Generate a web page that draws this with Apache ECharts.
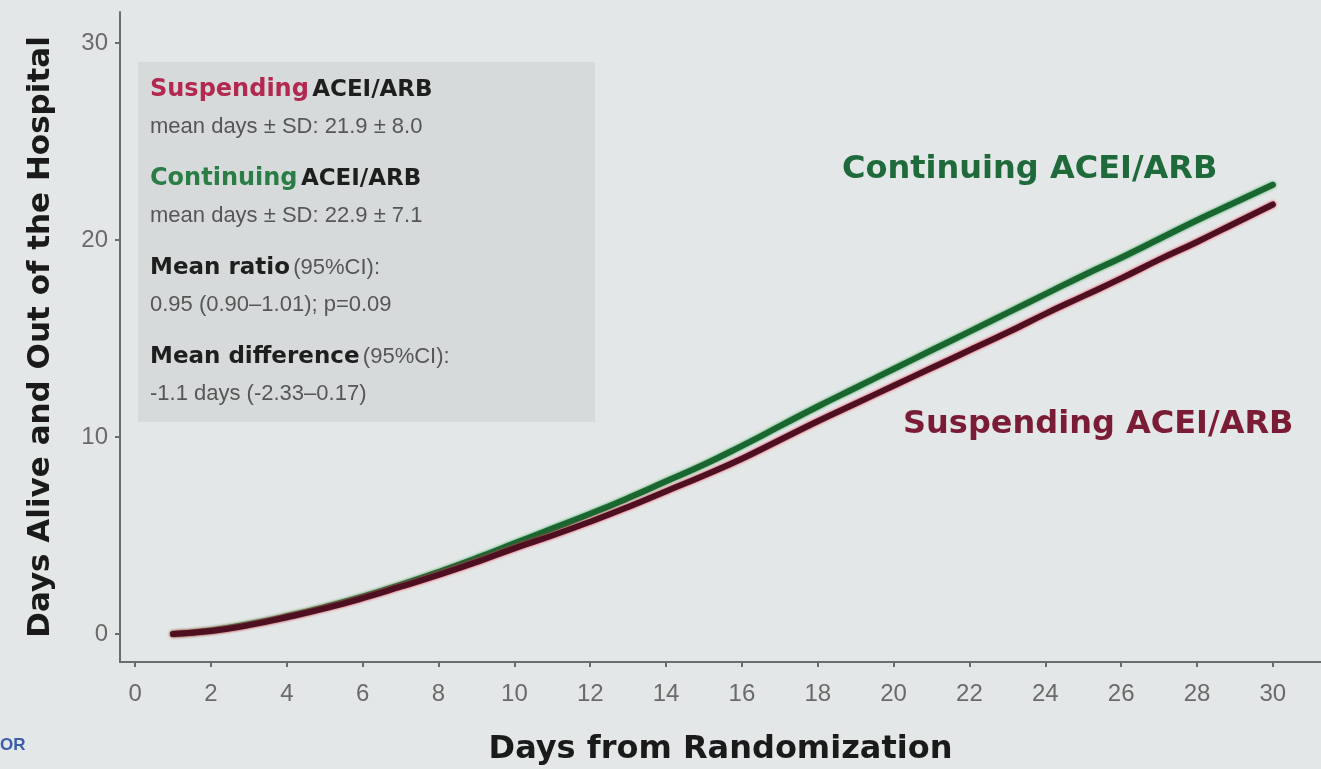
<!DOCTYPE html>
<html>
<head>
<meta charset="utf-8">
<script src="https://cdn.jsdelivr.net/npm/echarts@6/dist/echarts.min.js"></script>
<style>
html,body{margin:0;padding:0;background:#e4e7e7;}
#chart{width:1321px;height:769px;}
</style>
</head>
<body>
<div id="chart"></div>
<script>
const days = [1,2,3,4,5,6,7,8,9,10,11,12,13,14,15,16,17,18,19,20,21,22,23,24,25,26,27,28,29,30];
const continuing = [0,0.18,0.5,0.9,1.37,1.9,2.5,3.15,3.85,4.6,5.35,6.1,6.9,7.75,8.6,9.55,10.55,11.55,12.5,13.45,14.4,15.35,16.3,17.25,18.2,19.1,20.05,21.0,21.9,22.8];
const suspending = [0,0.15,0.45,0.85,1.3,1.82,2.4,3.0,3.65,4.35,5.0,5.7,6.45,7.25,8.05,8.9,9.85,10.8,11.7,12.6,13.5,14.4,15.3,16.25,17.15,18.05,19.0,19.9,20.85,21.8];
const xTicks = [0,2,4,6,8,10,12,14,16,18,20,22,24,26,28,30];
const yTicks = [0,10,20,30];

const font = '"Liberation Sans", Arial, sans-serif';
const bold = '"DejaVu Sans", sans-serif';
const chart = echarts.init(document.getElementById('chart'));
chart.setOption({
  backgroundColor: '#e4e7e7',
  animation: false,
  grid: {left: 120, right: 0, top: 12, bottom: 107, outerBoundsMode: 'none', containLabel: false},
  xAxis: {
    type: 'value', min: -0.4, max: 31.27,
    name: 'Days from Randomization', nameLocation: 'middle', nameGap: 72,
    nameTextStyle: {fontFamily: bold, fontSize: 32, fontWeight: 'bold', color: '#1a1a1a'},
    axisLine: {show: true, onZero: false, lineStyle: {color: '#6a6d6d', width: 2}},
    axisTick: {show: true, length: 5, customValues: xTicks, lineStyle: {color: '#6a6d6d', width: 2}},
    axisLabel: {customValues: xTicks, fontFamily: font, fontSize: 24, color: '#6a6a6a', margin: 20},
    splitLine: {show: false}
  },
  yAxis: {
    type: 'value', min: -1.42, max: 31.57,
    name: 'Days Alive and Out of the Hospital', nameLocation: 'middle', nameGap: 64,
    nameTextStyle: {fontFamily: bold, fontSize: 31, fontWeight: 'bold', color: '#1a1a1a'},
    axisLine: {show: true, onZero: false, lineStyle: {color: '#6a6d6d', width: 2}},
    axisTick: {show: true, length: 5, customValues: yTicks, lineStyle: {color: '#6a6d6d', width: 2}},
    axisLabel: {customValues: yTicks, fontFamily: font, fontSize: 24, color: '#6a6a6a', margin: 12},
    splitLine: {show: false}
  },
  series: [
    {
      name: 'Continuing ACEI/ARB', type: 'line', smooth: true, showSymbol: false,
      data: days.map((d, i) => [d, continuing[i]]),
      lineStyle: {color: '#1a6630', width: 6, cap: 'round', shadowColor: '#2fa34e', shadowBlur: 3}
    },
    {
      name: 'Suspending ACEI/ARB', type: 'line', smooth: true, showSymbol: false,
      data: days.map((d, i) => [d, suspending[i]]),
      lineStyle: {color: '#4e1020', width: 6, cap: 'round', shadowColor: '#e8304e', shadowBlur: 3}
    }
  ],
  graphic: [
    {type: 'rect', left: 138, top: 62, shape: {width: 457, height: 360}, style: {fill: '#d7dada'}, z: 1},
    {
      type: 'text', left: 150, top: 78, z: 2,
      style: {
        text: '{s|Suspending} {b|ACEI/ARB}\n{g|mean days ± SD: 21.9 ± 8.0}\n{sp|}\n{c|Continuing} {b|ACEI/ARB}\n{g|mean days ± SD: 22.9 ± 7.1}\n{sp|}\n{b|Mean ratio} {g|(95%CI):}\n{g|0.95 (0.90–1.01); p=0.09}\n{sp|}\n{b|Mean difference} {g|(95%CI):}\n{g|-1.1 days (-2.33–0.17)}',
        fontFamily: font,
        rich: {
          s: {fontFamily: bold, fontSize: 24, fontWeight: 'bold', fill: '#b3284f', lineHeight: 37},
          c: {fontFamily: bold, fontSize: 24, fontWeight: 'bold', fill: '#2b7d46', lineHeight: 37},
          b: {fontFamily: bold, fontSize: 23, fontWeight: 'bold', fill: '#1e1e1e', lineHeight: 37},
          g: {fontFamily: font, fontSize: 22, fill: '#555757', lineHeight: 37},
          sp: {fontSize: 10, lineHeight: 15}
        }
      }
    },
    {type: 'text', left: 842, top: 154, z: 3,
      style: {text: 'Continuing ACEI/ARB', fontFamily: bold, fontSize: 32, fontWeight: 'bold', fill: '#1f6a3a'}},
    {type: 'text', left: 903, top: 409, z: 3,
      style: {text: 'Suspending ACEI/ARB', fontFamily: bold, fontSize: 32, fontWeight: 'bold', fill: '#7a1c36'}},
    {type: 'text', left: 0, top: 737, z: 3,
      style: {text: 'OR', fontFamily: font, fontSize: 17, fontWeight: 'bold', fill: '#3b5ea8'}}
  ]
});
</script>
</body>
</html>
